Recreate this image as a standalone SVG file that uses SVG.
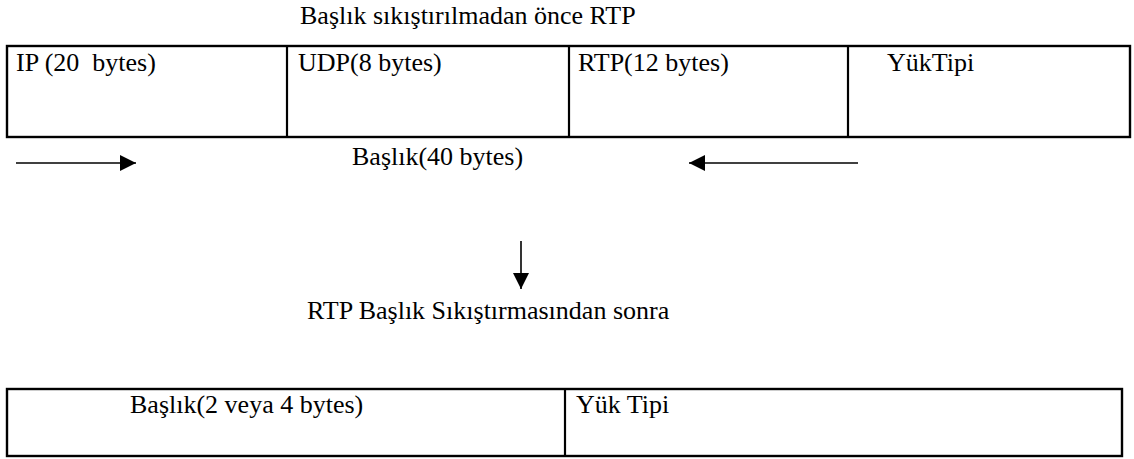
<svg xmlns="http://www.w3.org/2000/svg" width="1134" height="459" viewBox="0 0 1134 459">
<style>
text{font-family:"Liberation Serif","Times New Roman",serif;font-size:26px;fill:#000;white-space:pre}
.box{fill:none;stroke:#000;stroke-width:2.4}
.div{stroke:#000;stroke-width:2.2}
.arr{stroke:#000;stroke-width:1.6;fill:none}
</style>
<defs>
<marker id="ah" viewBox="0 0 16 16" refX="16" refY="8" markerWidth="16" markerHeight="16" markerUnits="userSpaceOnUse" orient="auto">
<path d="M0,0 L16,8 L0,16 Z" fill="#000"/>
</marker>
</defs>
<rect width="1134" height="459" fill="#fff"/>
<text id="title" x="300" y="24">Başlık sıkıştırılmadan önce RTP</text>
<g id="top-packet">
<rect class="box" x="7" y="46" width="1123" height="91"/>
<g id="ip"><text x="16" y="71" xml:space="preserve">IP (20  bytes)</text></g>
<g id="udp"><line class="div" x1="287" y1="46" x2="287" y2="137"/><text x="298" y="71">UDP(8 bytes)</text></g>
<g id="rtp"><line class="div" x1="569" y1="46" x2="569" y2="137"/><text x="578" y="71">RTP(12 bytes)</text></g>
<g id="payload"><line class="div" x1="848" y1="46" x2="848" y2="137"/><text x="887" y="71">YükTipi</text></g>
</g>
<g id="header-label"><text x="352" y="165">Başlık(40 bytes)</text></g>
<g id="connectors">
<line class="arr" x1="16" y1="163" x2="136" y2="163" marker-end="url(#ah)"/>
<line class="arr" x1="858" y1="163" x2="689" y2="163" marker-end="url(#ah)"/>
<line class="arr" x1="521" y1="241" x2="521" y2="289" marker-end="url(#ah)"/>
</g>
<text id="subtitle" x="307" y="319">RTP Başlık Sıkıştırmasından sonra</text>
<g id="bottom-packet">
<rect class="box" x="7" y="389" width="1115" height="67"/>
<g id="comp-header"><text x="130" y="413">Başlık(2 veya 4 bytes)</text></g>
<g id="comp-payload"><line class="div" x1="565" y1="389" x2="565" y2="456"/><text x="576" y="413">Yük Tipi</text></g>
</g>
</svg>
